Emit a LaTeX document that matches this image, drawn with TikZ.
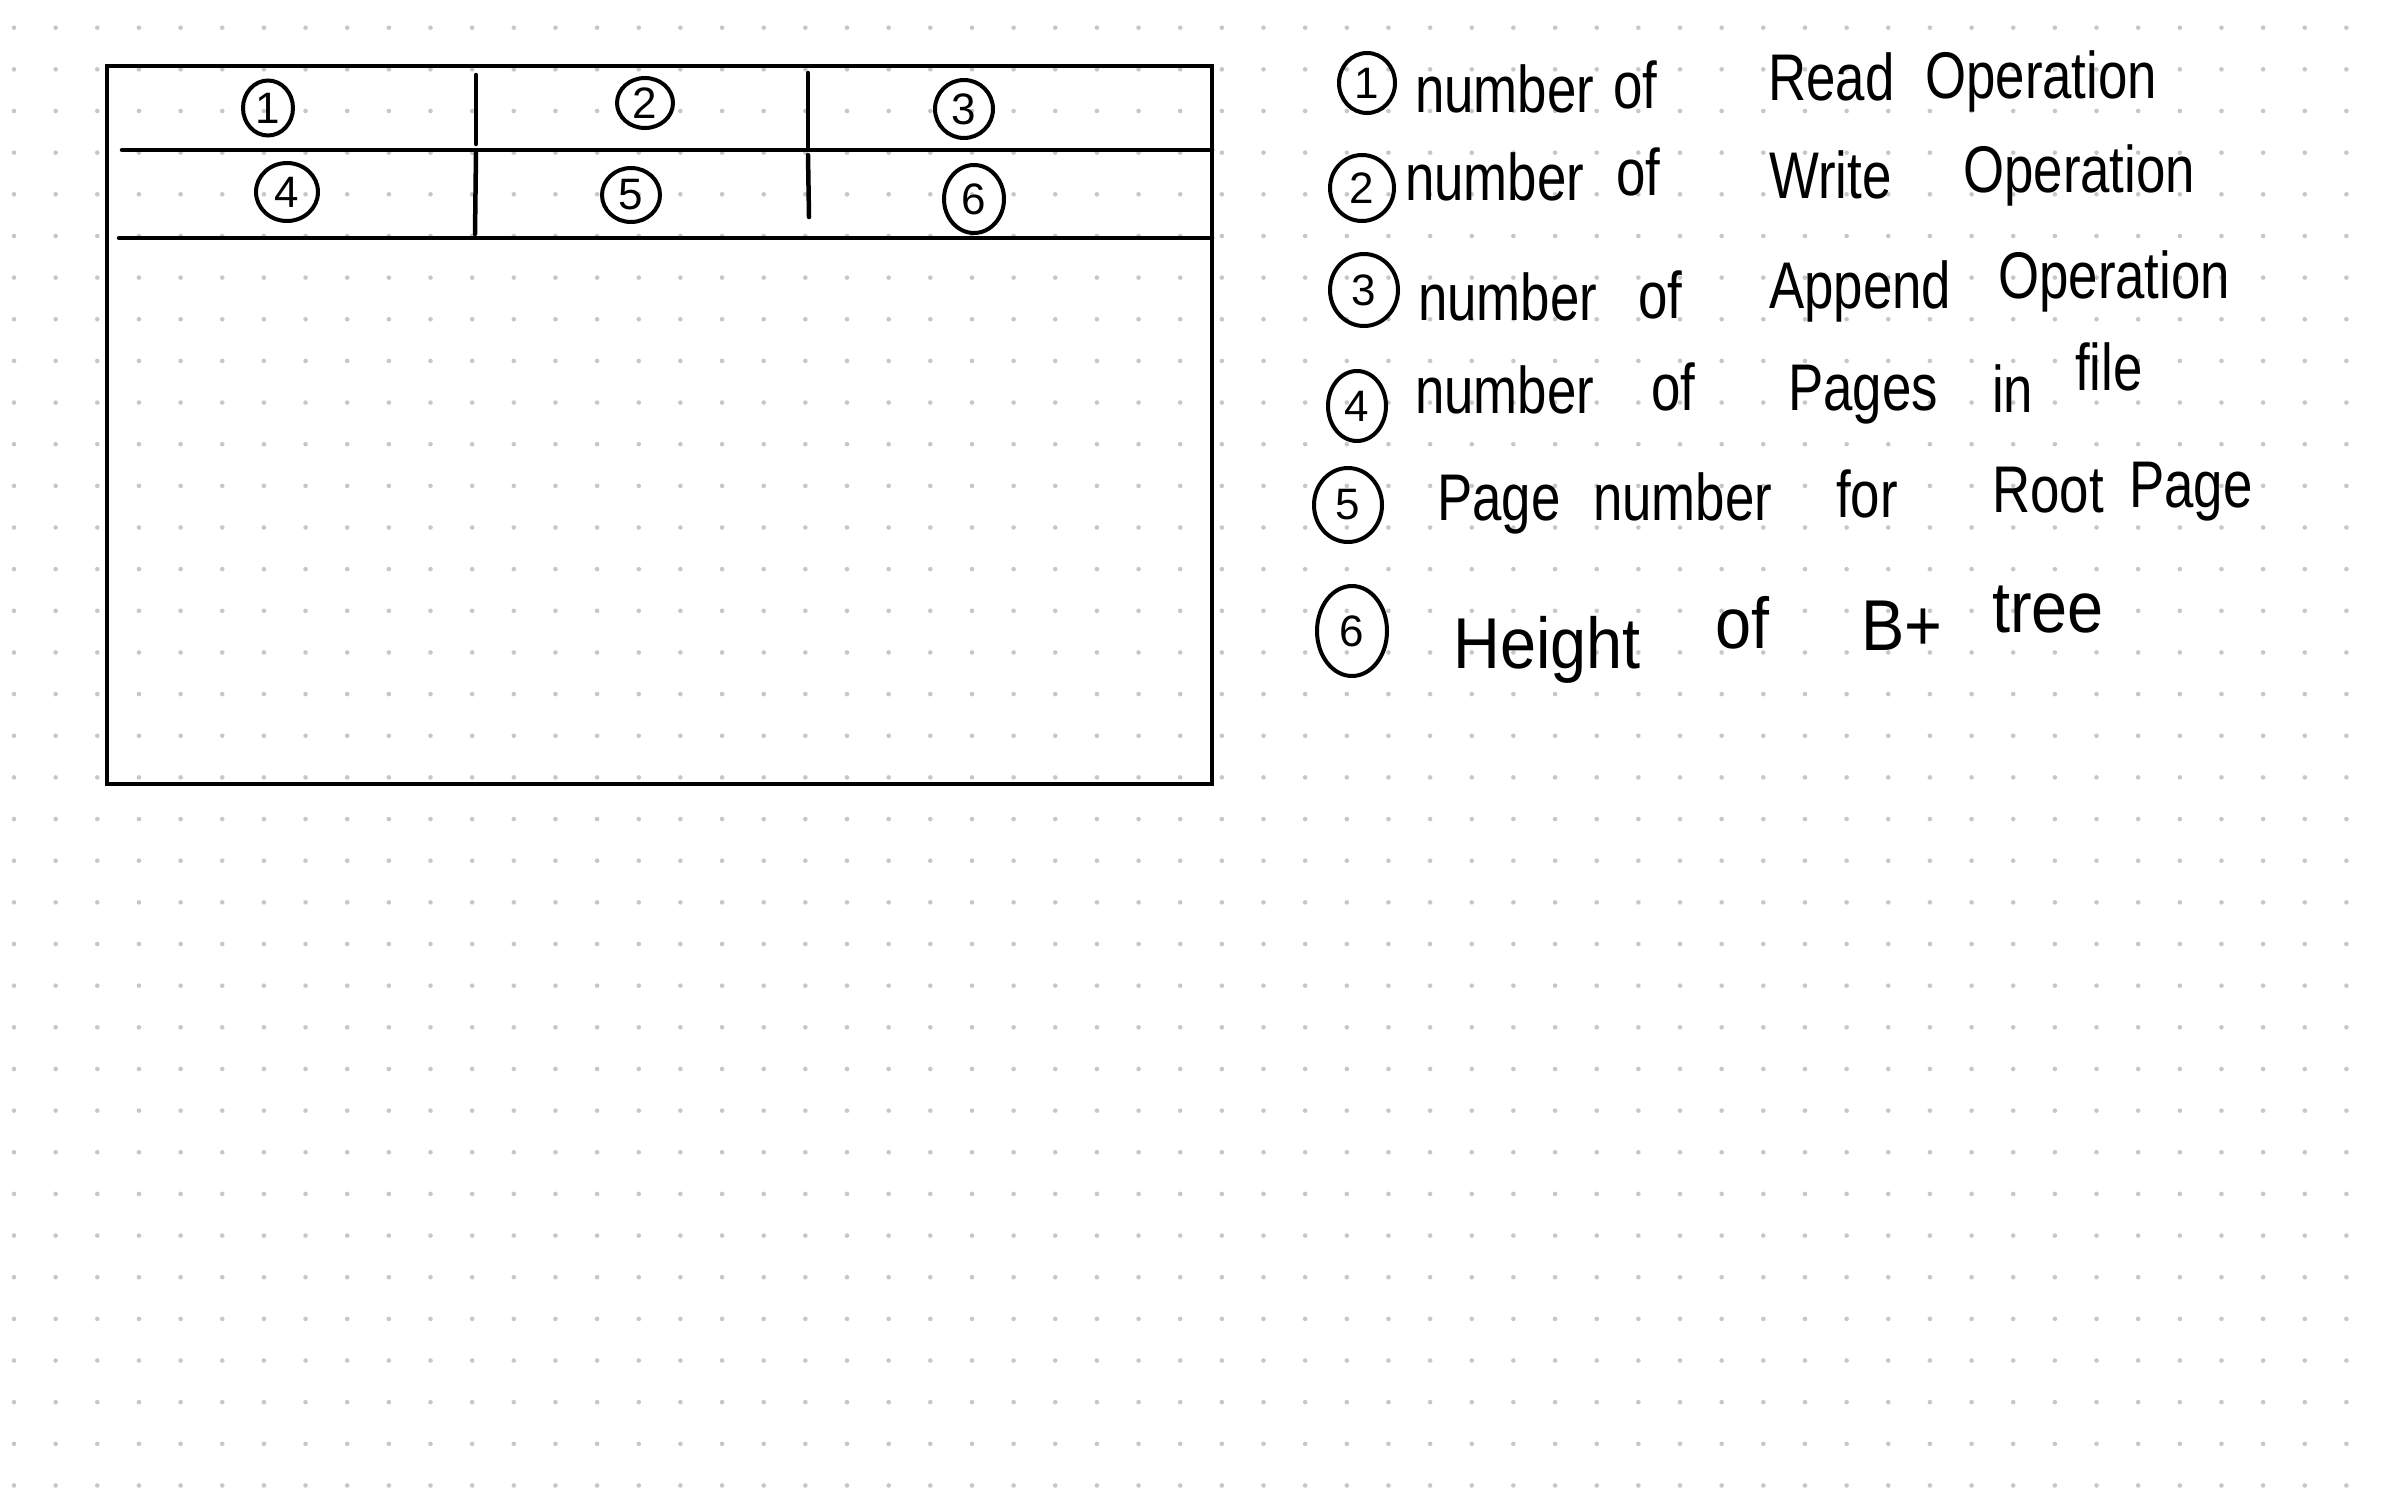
\documentclass[tikz,border=0pt]{standalone}
\usepackage{fontspec}
\setmainfont{Liberation Sans}
\usepackage{graphicx}
\usetikzlibrary{shapes.geometric}
\newcommand\handw[1]{\scalebox{0.8}[1]{#1}}
\newcommand\handbig[1]{\scalebox{0.9}[1]{#1}}
\begin{document}
\begin{tikzpicture}[x=1pt,y=-1pt,
  ink/.style={line width=4.5pt, line cap=round, draw=black},
  num/.style={ellipse, draw=black, line width=4pt, inner sep=0pt, font=\fontsize{44}{44}\selectfont},
  word/.style={anchor=base west, inner sep=0pt, font=\fontsize{66}{66}\selectfont},
  bigword/.style={anchor=base west, inner sep=0pt, font=\fontsize{72}{72}\selectfont},
  griddot/.style={fill=black!22}]
\fill[white] (0,0) rectangle (2386,1491);
\useasboundingbox (0,0) rectangle (2386,1491);
% dot grid
\foreach \i in {0,...,57} {
  \foreach \j in {0,...,35} {
    \fill[griddot] (14+41.65*\i, 27.7+41.65*\j) circle (2.3);
  }
}
% table
\coordinate (tl) at (107,66);
\coordinate (br) at (1212,784);
\draw[ink, line cap=butt, line join=miter] (tl) rectangle (br);
\coordinate (h1a) at (122,150);
\coordinate (h1b) at (1212,150);
\coordinate (h2a) at (119,238);
\coordinate (h2b) at (1212,238);
\draw[ink] (h1a) -- (h1b);
\draw[ink] (h2a) -- (h2b);
\coordinate (v1a) at (476,75);  \coordinate (v1b) at (476,144);
\coordinate (v2a) at (808,73);  \coordinate (v2b) at (808,147);
\coordinate (v3a) at (476,153); \coordinate (v3b) at (475,234);
\coordinate (v4a) at (808,155); \coordinate (v4b) at (809,217);
\draw[ink] (v1a) -- (v1b);
\draw[ink] (v2a) -- (v2b);
\draw[ink] (v3a) -- (v3b);
\draw[ink] (v4a) -- (v4b);
% circled numbers in table
\node[num, minimum width=50pt, minimum height=55pt] (c1) at (268,108) {1};
\node[num, minimum width=56pt, minimum height=50pt] (c2) at (645,103) {2};
\node[num, minimum width=58pt, minimum height=58pt] (c3) at (964,109) {3};
\node[num, minimum width=62pt, minimum height=58pt] (c4) at (287,192) {4};
\node[num, minimum width=58pt, minimum height=54pt] (c5) at (631,195) {5};
\node[num, minimum width=60pt, minimum height=68pt] (c6) at (974,199) {6};
% legend
\node[num, minimum width=56pt, minimum height=60pt] (l1) at (1367,83) {1};
\node[word] (w1a) at (1415,112) {\handw{number}};
\node[word] (w1b) at (1613,108) {\handw{of}};
\node[word] (w1c) at (1768,100) {\handw{Read}};
\node[word] (w1d) at (1925,98) {\handw{Operation}};

\node[num, minimum width=64pt, minimum height=66pt] (l2) at (1362,188) {2};
\node[word] (w2a) at (1405,200) {\handw{number}};
\node[word] (w2b) at (1616,195) {\handw{of}};
\node[word] (w2c) at (1769,198) {\handw{Write}};
\node[word] (w2d) at (1963,192) {\handw{Operation}};

\node[num, minimum width=68pt, minimum height=72pt] (l3) at (1364,290) {3};
\node[word] (w3a) at (1418,320) {\handw{number}};
\node[word] (w3b) at (1638,318) {\handw{of}};
\node[word] (w3c) at (1769,308) {\handw{Append}};
\node[word] (w3d) at (1998,298) {\handw{Operation}};

\node[num, minimum width=58pt, minimum height=70pt] (l4) at (1357,406) {4};
\node[word] (w4a) at (1415,413) {\handw{number}};
\node[word] (w4b) at (1651,410) {\handw{of}};
\node[word] (w4c) at (1788,410) {\handw{Pages}};
\node[word] (w4d) at (1992,412) {\handw{in}};
\node[word] (w4e) at (2075,390) {\handw{file}};

\node[num, minimum width=68pt, minimum height=74pt] (l5) at (1348,505) {5};
\node[word] (w5a) at (1437,520) {\handw{Page}};
\node[word] (w5b) at (1593,520) {\handw{number}};
\node[word] (w5c) at (1836,517) {\handw{for}};
\node[word] (w5d) at (1992,512) {\handw{Root}};
\node[word] (w5e) at (2129,507) {\handw{Page}};

\node[num, minimum width=70pt, minimum height=90pt] (l6) at (1352,631) {6};
\node[bigword] (w6a) at (1453,668) {\handbig{Height}};
\node[bigword] (w6b) at (1715,648) {\handbig{of}};
\node[bigword] (w6c) at (1861,650) {\handbig{B+}};
\node[bigword] (w6d) at (1992,632) {\handbig{tree}};
\end{tikzpicture}
\end{document}
